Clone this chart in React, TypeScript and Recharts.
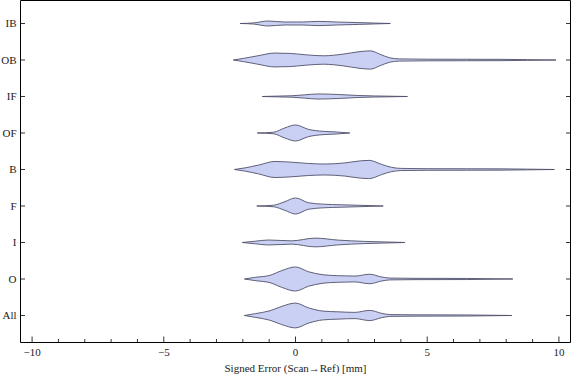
import { Area, ComposedChart, XAxis, YAxis } from 'recharts'

// categories listed top to bottom
const CATEGORIES = ['IB', 'OB', 'IF', 'OF', 'B', 'F', 'I', 'O', 'All']

const X_TICKS = [-10, -9, -8, -7, -6, -5, -4, -3, -2, -1, 0, 1, 2, 3, 4, 5, 6, 7, 8, 9, 10]
const X_LABELS: Record<number, string> = { [-10]: '\u221210', [-5]: '\u22125', 0: '0', 5: '5', 10: '10' }
const Y_TICKS = [1, 2, 3, 4, 5, 6, 7, 8, 9]

// violin outlines: error value (mm) and half width (in category spacings)
const IB_X = [-2.1, -1.6, -1.04, -0.4, 0.3, 0.85, 1.6, 2.4, 3.0, 3.6]
const IB_W = [0, 0.015, 0.068, 0.04, 0.042, 0.058, 0.04, 0.025, 0.012, 0]

const OB_X = [-2.36, -1.97, -1.47, -0.78, -0.2, 0.43, 1.06, 1.8, 2.45, 2.85, 3.2, 3.58, 3.95, 5, 6.5, 7.8, 8.8, 9.89]
const OB_W = [0, 0.045, 0.11, 0.19, 0.18, 0.14, 0.115, 0.16, 0.23, 0.25, 0.16, 0.06, 0.03, 0.022, 0.02, 0.018, 0.01, 0]

const IF_X = [-1.26, -0.6, -0.14, 0.36, 0.86, 1.62, 2.38, 3.0, 4.25]
const IF_W = [0, 0.012, 0.02, 0.045, 0.07, 0.055, 0.027, 0.015, 0]

const OF_X = [-1.45, -0.84, -0.4, 0, 0.49, 1.05, 1.5, 2.06]
const OF_W = [0, 0.02, 0.14, 0.22, 0.1, 0.045, 0.03, 0]

const B_X = [-2.32, -1.91, -1.41, -0.78, -0.14, 0.49, 1.12, 1.87, 2.5, 2.8, 3.27, 3.64, 4.0, 5, 6.5, 7.8, 8.8, 9.83]
const B_W = [0, 0.045, 0.12, 0.22, 0.2, 0.165, 0.15, 0.18, 0.24, 0.25, 0.14, 0.06, 0.03, 0.022, 0.02, 0.018, 0.01, 0]

const F_X = [-1.47, -0.84, -0.4, 0, 0.49, 1.05, 1.75, 2.38, 3.33]
const F_W = [0, 0.02, 0.12, 0.22, 0.09, 0.05, 0.033, 0.02, 0]

const I_X = [-2.02, -1.53, -1.03, -0.14, 0.74, 1.62, 2.63, 3.39, 4.15]
const I_W = [0, 0.035, 0.068, 0.045, 0.12, 0.065, 0.03, 0.015, 0]

const O_X = [-1.94, -1.53, -0.97, -0.52, 0, 0.49, 1.05, 1.62, 2.25, 2.82, 3.27, 3.58, 4.5, 6.5, 8.25]
const O_W = [0, 0.045, 0.1, 0.23, 0.33, 0.2, 0.115, 0.09, 0.08, 0.13, 0.055, 0.025, 0.018, 0.015, 0]

const ALL_X = [-1.94, -1.53, -0.97, -0.52, 0, 0.49, 1.05, 1.62, 2.25, 2.82, 3.27, 3.58, 4.5, 6.5, 8.21]
const ALL_W = [0, 0.05, 0.13, 0.25, 0.34, 0.21, 0.12, 0.1, 0.085, 0.14, 0.06, 0.025, 0.018, 0.015, 0]

const VIOLINS = [
  [IB_X, IB_W],
  [OB_X, OB_W],
  [IF_X, IF_W],
  [OF_X, OF_W],
  [B_X, B_W],
  [F_X, F_W],
  [I_X, I_W],
  [O_X, O_W],
  [ALL_X, ALL_W],
]

const X_DOMAIN: [number, number] = [-10.44, 10.44]
const Y_DOMAIN: [number, number] = [0.26, 9.63]
const FONT = 'Liberation Serif, DejaVu Serif, serif'
const FILL = '#cad0f4'
const EDGE = '#50506a'

function catName(v: number) {
  return CATEGORIES[CATEGORIES.length - v] ?? ''
}

function BottomTick(props: any) {
  const { x, y, payload } = props
  const major = payload.value % 5 === 0
  return (
    <g>
      <line x1={x} x2={x} y1={y} y2={y - (major ? 6 : 3.5)} stroke="#000" strokeWidth={0.8} />
      {major && (
        <text x={x} y={y + 13.5} textAnchor="middle" fontSize={11} fontFamily={FONT} fill="#222">
          {X_LABELS[payload.value]}
        </text>
      )}
    </g>
  )
}

function TopTick(props: any) {
  const { x, y, payload } = props
  const major = payload.value % 5 === 0
  return <line x1={x} x2={x} y1={y} y2={y + (major ? 5 : 3)} stroke="#000" strokeWidth={0.8} />
}

function LeftTick(props: any) {
  const { x, y, payload } = props
  return (
    <g>
      <line x1={x} x2={x + 4.5} y1={y} y2={y} stroke="#000" strokeWidth={0.8} />
      <text x={x - 4} y={y + 4} textAnchor="end" fontSize={11} fontFamily={FONT} fill="#222">
        {catName(payload.value)}
      </text>
    </g>
  )
}

function RightTick(props: any) {
  const { x, y } = props
  return <line x1={x} x2={x - 4.5} y1={y} y2={y} stroke="#000" strokeWidth={0.8} />
}

export default function App() {
  const series = VIOLINS.map(([xs, ws], i) => {
    const pos = CATEGORIES.length - i
    return xs.map((x, j) => ({ x, range: [pos - ws[j], pos + ws[j]] }))
  })

  return (
    <div style={{ position: 'absolute', left: 0, top: 0, width: 576, height: 381, background: '#fff' }}>
      <ComposedChart width={576} height={381} margin={{ top: 0, right: 4.5, bottom: 0.5, left: 0.5 }}>
        <XAxis
          type="number"
          dataKey="x"
          domain={X_DOMAIN}
          allowDataOverflow
          ticks={X_TICKS}
          interval={0}
          height={38}
          tickSize={0}
          tickMargin={0}
          tickLine={false}
          axisLine={{ stroke: '#000', strokeWidth: 1 }}
          tick={<BottomTick />}
          label={{
            value: 'Signed Error (Scan\u2192Ref) [mm]',
            position: 'insideBottom',
            offset: 9,
            fontSize: 11,
            fontFamily: FONT,
            fill: '#222',
          }}
        />
        <XAxis
          xAxisId="top"
          orientation="top"
          type="number"
          domain={X_DOMAIN}
          allowDataOverflow
          ticks={X_TICKS}
          interval={0}
          height={0.5}
          tickSize={0}
          tickMargin={0}
          tickLine={false}
          axisLine={{ stroke: '#000', strokeWidth: 1 }}
          tick={<TopTick />}
        />
        <YAxis
          type="number"
          domain={Y_DOMAIN}
          allowDataOverflow
          ticks={Y_TICKS}
          interval={0}
          width={20}
          tickSize={0}
          tickMargin={0}
          tickLine={false}
          axisLine={{ stroke: '#000', strokeWidth: 1 }}
          tick={<LeftTick />}
        />
        <YAxis
          yAxisId="right"
          orientation="right"
          type="number"
          domain={Y_DOMAIN}
          allowDataOverflow
          ticks={Y_TICKS}
          interval={0}
          width={1}
          tickSize={0}
          tickMargin={0}
          tickLine={false}
          axisLine={{ stroke: '#000', strokeWidth: 1 }}
          tick={<RightTick />}
        />
        {series.map((d, i) => (
          <Area
            key={CATEGORIES[i]}
            data={d}
            dataKey="range"
            type="monotone"
            fill={FILL}
            fillOpacity={1}
            stroke={EDGE}
            strokeWidth={0.9}
            dot={false}
            activeDot={false}
            isAnimationActive={false}
          />
        ))}
      </ComposedChart>
    </div>
  )
}
